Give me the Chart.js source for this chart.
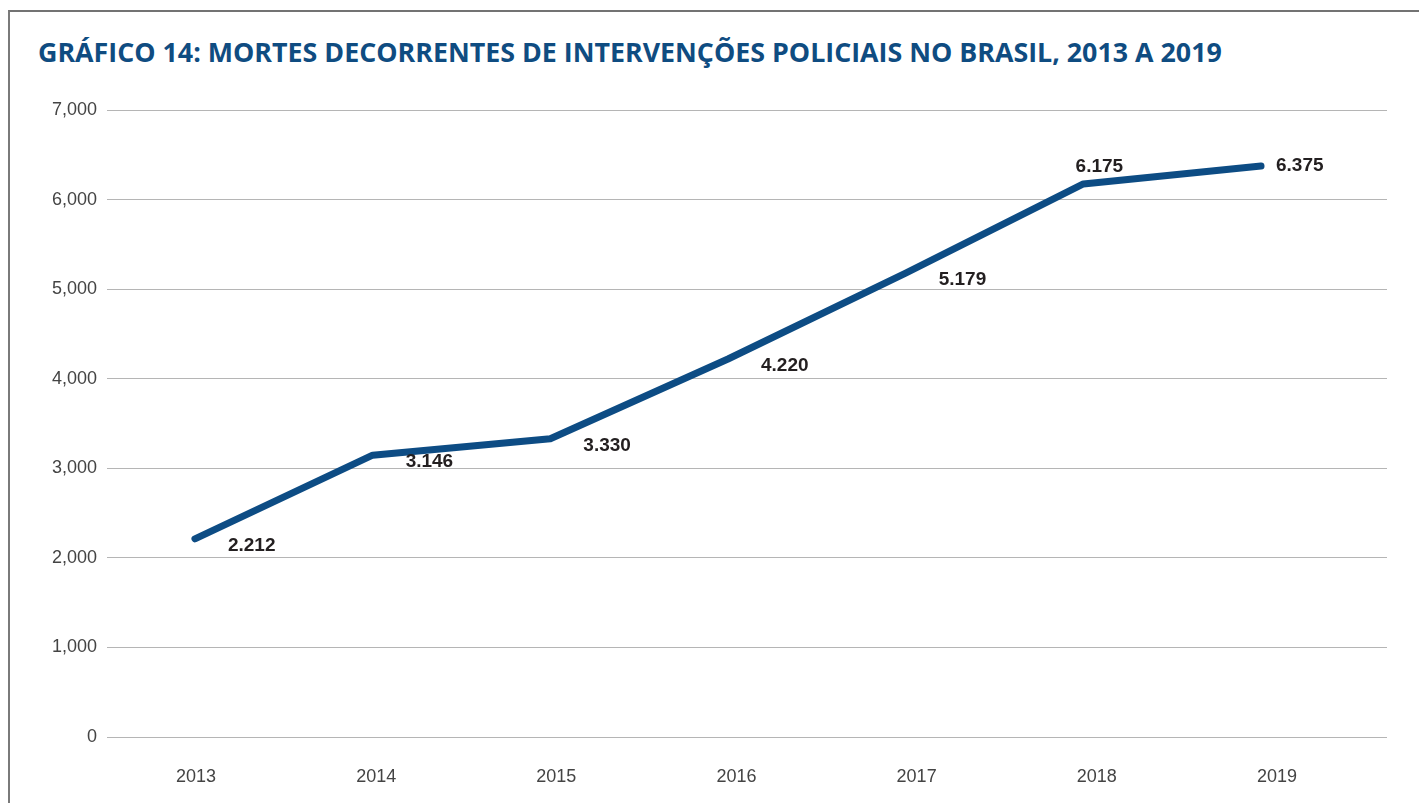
<!DOCTYPE html>
<html>
<head>
<meta charset="utf-8">
<script src="https://cdn.jsdelivr.net/npm/chart.js@4/dist/chart.umd.min.js"></script>
<style>
  html, body { margin: 0; padding: 0; background: #ffffff; }
  body { width: 1419px; height: 803px; position: relative; overflow: hidden; }
  #frame { position: absolute; left: 8px; top: 10px; right: 0; bottom: -10px;
           border-top: 2px solid #737373; border-left: 2px solid #7a7a7a; }
  #title { position: absolute; left: 38px; top: 33px; margin: 0; white-space: nowrap;
           font-family: 'Open Sans', 'Noto Sans', sans-serif; font-weight: 700;
           font-size: 28px; line-height: 38px; color: #0f4c81; }
  #wrap { position: absolute; left: 0; top: 0; width: 1419px; height: 803px; }
</style>
</head>
<body>
<div id="frame"></div>
<h1 id="title">GRÁFICO 14: MORTES DECORRENTES DE INTERVENÇÕES POLICIAIS NO BRASIL, 2013 A 2019</h1>
<div id="wrap"><canvas id="c" width="1419" height="803"></canvas></div>
<script>
// ---- data ----
const years = [2013, 2014, 2015, 2016, 2017, 2018, 2019];
const deaths = [2212, 3146, 3330, 4220, 5179, 6175, 6375];
const yTickValues = [0, 1000, 2000, 3000, 4000, 5000, 6000, 7000];
const valueLabels = ['2.212', '3.146', '3.330', '4.220', '5.179', '6.175', '6.375'];

// fit title width
(function () {
  const t = document.getElementById('title');
  const target = 1184;
  const w = t.getBoundingClientRect().width;
  if (w > 0) {
    const fs = 28 * target / w;
    t.style.fontSize = fs.toFixed(2) + 'px';
  }
})();

const lineColor = '#0d4c84';
const tickFont = { family: "'Liberation Sans', Arial, sans-serif", size: 18 };

const labelPlugin = {
  id: 'valueLabels',
  afterDatasetsDraw(chart, args, opts) {
    const ctx = chart.ctx;
    const meta = chart.getDatasetMeta(0);
    ctx.save();
    ctx.font = "bold 19px 'Liberation Sans', Arial, sans-serif";
    ctx.fillStyle = '#231f20';
    ctx.textBaseline = 'middle';
    meta.data.forEach((pt, i) => {
      const mode = opts.modes[i] || 'belowRight';
      let x = pt.x, y = pt.y;
      if (mode === 'above') {
        ctx.textAlign = 'center';
        x += 16; y -= 17;
      } else if (mode === 'right') {
        ctx.textAlign = 'left';
        x += 15; y += 0;
      } else {
        ctx.textAlign = 'left';
        x += 33; y += 7;
      }
      ctx.fillText(valueLabels[i], x, y);
    });
    ctx.restore();
  }
};

new Chart(document.getElementById('c'), {
  type: 'line',
  data: {
    datasets: [{
      data: years.map((yr, i) => ({ x: yr, y: deaths[i] })),
      xAxisID: 'x',
      yAxisID: 'y',
      borderColor: lineColor,
      backgroundColor: lineColor,
      borderWidth: 7,
      borderCapStyle: 'round',
      borderJoinStyle: 'round',
      pointRadius: 0,
      pointHoverRadius: 0,
      tension: 0,
      fill: false
    }]
  },
  options: {
    responsive: false,
    animation: false,
    events: [],
    layout: { padding: { top: 110, right: 32, left: 0, bottom: 0 } },
    plugins: {
      legend: { display: false },
      tooltip: { enabled: false },
      title: { display: false },
      valueLabels: { modes: ['belowRight', 'belowRight', 'belowRight', 'belowRight', 'belowRight', 'above', 'right'] }
    },
    scales: {
      x: {
        type: 'linear',
        display: false,
        min: 2012.505,
        max: 2019.709
      },
      xt: {
        type: 'linear',
        position: 'bottom',
        min: 2012.506,
        max: 2019.611,
        afterBuildTicks: (s) => { s.ticks = years.map(v => ({ value: v })); },
        afterFit: (s) => { s.height = 66; },
        ticks: {
          callback: (v) => String(v),
          font: tickFont,
          color: '#444444',
          padding: 29,
          maxRotation: 0,
          autoSkip: false
        },
        grid: { display: false, drawTicks: false },
        border: { display: false }
      },
      y: {
        min: 0,
        max: 7000,
        afterBuildTicks: (s) => { s.ticks = yTickValues.map(v => ({ value: v })); },
        afterFit: (s) => { s.width = 107; },
        ticks: {
          callback: (v) => v.toLocaleString('en-US'),
          font: tickFont,
          color: '#444444',
          padding: 10
        },
        grid: { color: '#b5b5b5', lineWidth: 1, drawTicks: false },
        border: { display: false }
      }
    }
  },
  plugins: [labelPlugin]
});
</script>
</body>
</html>
